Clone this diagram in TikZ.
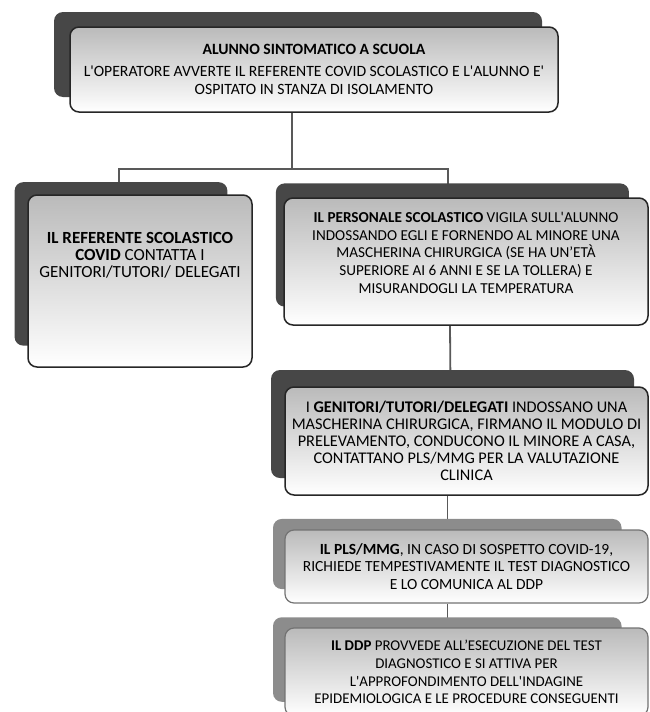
\documentclass[tikz,border=0pt]{standalone}
\usepackage{fontspec}
\setmainfont{Carlito}
\usetikzlibrary{shadows, backgrounds}

\newcommand{\boxfont}[2]{\fontsize{#1}{#2}\selectfont}

\begin{document}
\begin{tikzpicture}[
    x=1pt, y=-1pt,
    front/.style={rectangle, rounded corners=9pt, draw=black!85, line width=1.5pt, top color=black!27, bottom color=white, align=center, inner sep=0pt},
    back/.style={general shadow={fill=black!72, opacity=1, shadow xshift=-16pt, shadow yshift=15pt, #1}},
    back/.default=,
    paler/.style={front, draw=black!55, line width=1.2pt, general shadow={fill=black!45, opacity=1, shadow xshift=-20pt, shadow yshift=13pt, shadow scale=0.96}},
    link/.style={draw=black!65, line width=1.8pt}
]
\useasboundingbox (0,0) rectangle (649,712);
\clip (0,0) rectangle (649,712);

% Top box
\node[front, back, minimum width=488pt, minimum height=85pt, font=\boxfont{15.7}{18}] (top) at (314,69.5) {
    \textbf{ALUNNO SINTOMATICO A SCUOLA}\\[4pt]
    L\textquotesingle OPERATORE AVVERTE IL REFERENTE COVID SCOLASTICO E L\textquotesingle ALUNNO E\textquotesingle\\
    OSPITATO IN STANZA DI ISOLAMENTO
};

% Left branch
\node[front, back={shadow scale=0.95, shadow xshift=-20pt, shadow yshift=18pt}, minimum width=224pt, minimum height=172pt, font=\boxfont{17}{17}] (referent) at (140,281) {
    \textbf{IL REFERENTE SCOLASTICO}\\
    \textbf{COVID} CONTATTA I\\
    GENITORI/TUTORI/ DELEGATI\\[35pt]\mbox{}
};

% Right branch
\node[front, back={shadow scale=0.97, shadow xshift=-14pt, shadow yshift=17pt}, minimum width=364pt, minimum height=127pt, font=\boxfont{15.2}{17.75}] (staff) at (466,261.5) {
    \textbf{IL PERSONALE SCOLASTICO} VIGILA SULL\textquotesingle ALUNNO\\
    INDOSSANDO EGLI E FORNENDO AL MINORE UNA\\
    MASCHERINA CHIRURGICA (SE HA UN'ETÀ\\
    SUPERIORE AI 6 ANNI E SE LA TOLLERA) E\\
    MISURANDOGLI LA TEMPERATURA\\\mbox{}
};

\node[front, back={shadow xshift=-14pt, shadow yshift=17pt}, minimum width=363pt, minimum height=108pt, font=\boxfont{16.3}{17}] (parents) at (466.5,441) {
    I \textbf{GENITORI/TUTORI/DELEGATI} INDOSSANO UNA\\
    MASCHERINA CHIRURGICA, FIRMANO IL MODULO DI\\
    PRELEVAMENTO, CONDUCONO IL MINORE A CASA,\\
    CONTATTANO PLS/MMG PER LA VALUTAZIONE\\
    CLINICA
};

\node[paler, minimum width=363pt, minimum height=73pt, font=\boxfont{15.5}{17.5}] (pls) at (466.5,566.5) {
    \textbf{IL PLS/MMG}, IN CASO DI SOSPETTO COVID-19,\\
    RICHIEDE TEMPESTIVAMENTE IL TEST DIAGNOSTICO\\
    E LO COMUNICA AL DDP
};

\node[paler, minimum width=363pt, minimum height=88pt, font=\boxfont{14.9}{17.7}] (ddp) at (466.5,672) {
    \textbf{IL DDP} PROVVEDE ALL'ESECUZIONE DEL TEST\\
    DIAGNOSTICO E SI ATTIVA PER\\
    L\textquotesingle APPROFONDIMENTO DELL\textquotesingle INDAGINE\\
    EPIDEMIOLOGICA E LE PROCEDURE CONSEGUENTI
};

% Connectors
\begin{scope}[on background layer]
\draw[link] ([xshift=-22pt]top.south) -- ++(0,56) coordinate (bus) -| ([xshift=-21pt]referent.north);
\draw[link] (bus) -| ([xshift=-18pt]staff.north);
\draw[link] ([xshift=-16pt]staff.south) -- ([xshift=-16pt]parents.north);
\draw[link] ([xshift=-19pt]parents.south) -- ([xshift=-19pt]pls.north);
\draw[link] ([xshift=-19pt]pls.south) -- ([xshift=-19pt]ddp.north);
\end{scope}

\end{tikzpicture}
\end{document}
